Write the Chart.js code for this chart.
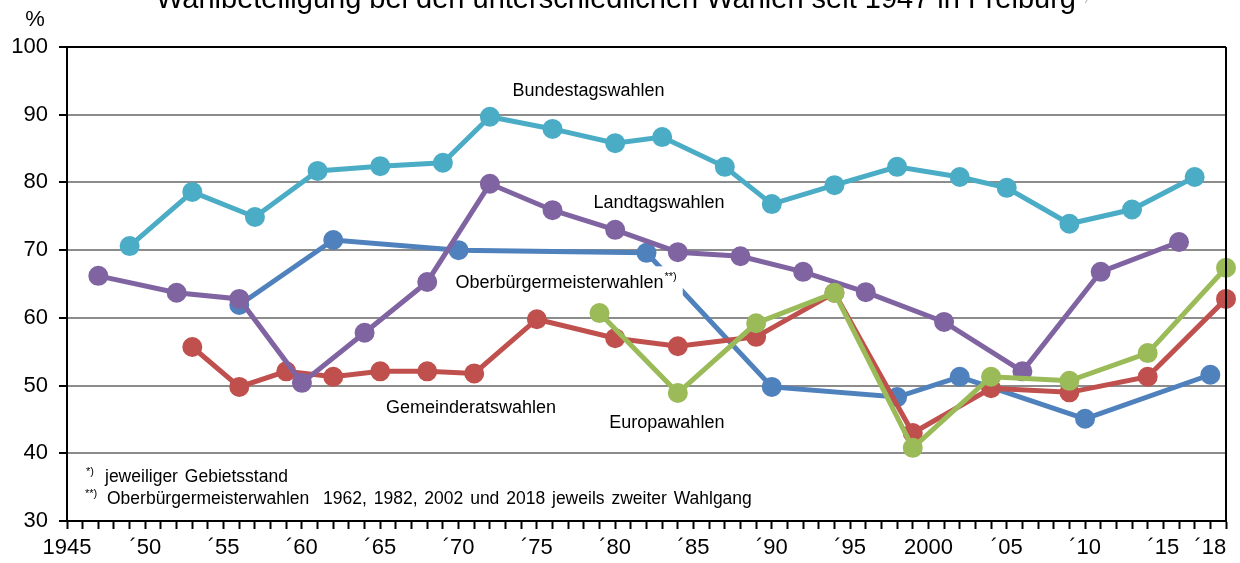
<!DOCTYPE html>
<html>
<head>
<meta charset="utf-8">
<script src="https://cdn.jsdelivr.net/npm/chart.js@4/dist/chart.umd.min.js"></script>
<style>
  body { margin: 0; background: #fff; }
  #wrap { width: 1240px; height: 563px; position: relative; }
</style>
</head>
<body>
<div id="wrap"><canvas id="chart"></canvas></div>
<script>
// Wahlbeteiligung in Freiburg, Werte in %
const bundYears  = [1949, 1953, 1957, 1961, 1965, 1969, 1972, 1976, 1980, 1983, 1987, 1990, 1994, 1998, 2002, 2005, 2009, 2013, 2017];
const bundVals   = [70.6, 78.6, 74.9, 81.7, 82.4, 82.9, 89.7, 87.9, 85.8, 86.7, 82.3, 76.8, 79.6, 82.3, 80.8, 79.2, 73.9, 76.0, 80.8];

const landYears  = [1947, 1952, 1956, 1960, 1964, 1968, 1972, 1976, 1980, 1984, 1988, 1992, 1996, 2001, 2006, 2011, 2016];
const landVals   = [66.2, 63.7, 62.8, 50.4, 57.8, 65.3, 79.8, 75.9, 73.0, 69.7, 69.1, 66.8, 63.8, 59.4, 52.1, 66.8, 71.2];

const obYears    = [1956, 1962, 1970, 1982, 1990, 1998, 2002, 2010, 2018];
const obVals     = [61.9, 71.5, 70.0, 69.6, 49.8, 48.3, 51.3, 45.1, 51.6];

const gemYears   = [1953, 1956, 1959, 1962, 1965, 1968, 1971, 1975, 1980, 1984, 1989, 1994, 1999, 2004, 2009, 2014, 2019];
const gemVals    = [55.7, 49.8, 52.1, 51.3, 52.1, 52.1, 51.8, 59.8, 57.0, 55.8, 57.2, 63.7, 43.0, 49.6, 49.0, 51.3, 62.8];

const euYears    = [1979, 1984, 1989, 1994, 1999, 2004, 2009, 2014, 2019];
const euVals     = [60.7, 48.9, 59.2, 63.7, 40.8, 51.3, 50.7, 54.8, 67.4];

const xTickYears  = [1945, 1950, 1955, 1960, 1965, 1970, 1975, 1980, 1985, 1990, 1995, 2000, 2005, 2010, 2015, 2018];
const xTickLabels = ['1945', '´50', '´55', '´60', '´65', '´70', '´75', '´80', '´85', '´90', '´95', '2000', '´05', '´10', '´15', '´18'];

const titleText = 'Wahlbeteiligung bei den unterschiedlichen Wahlen seit 1947 in Freiburg';

// Beschriftungen der Reihen (Position in Achsenwerten)
const seriesLabels = [
    { text: 'Bundestagswahlen', x: 1978.3, y: 93.5, align: 'center' },
    { text: 'Landtagswahlen', x: 1982.8, y: 77.0, align: 'center' },
    { text: 'Oberbürgermeisterwahlen', x: 1969.8, y: 65.1, align: 'left', sup: '**)', box: true },
    { text: 'Gemeinderatswahlen', x: 1970.8, y: 46.7, align: 'center' },
    { text: 'Europawahlen', x: 1983.3, y: 44.5, align: 'center' }
];

function pts(years, vals) {
    return years.map((y, i) => ({ x: y, y: vals[i] }));
}

function series(label, years, vals, color) {
    return {
        label: label,
        data: pts(years, vals),
        borderColor: color,
        backgroundColor: color,
        pointBackgroundColor: color,
        pointBorderColor: color,
        borderWidth: 5,
        pointRadius: 7.5,
        pointHoverRadius: 7.5,
        tension: 0,
        clip: false
    };
}

const FONT = '"Liberation Sans", Arial, sans-serif';

const textPlugin = {
    id: 'texts',
    afterDatasetsDraw(chart) {
        const ctx = chart.ctx;
        const xs = chart.scales.x, ys = chart.scales.y;
        const area = chart.chartArea;
        ctx.save();
        // rechter Rahmen
        ctx.strokeStyle = '#000';
        ctx.lineWidth = 2;
        ctx.beginPath();
        ctx.moveTo(area.right, area.top);
        ctx.lineTo(area.right, area.bottom);
        ctx.stroke();

        ctx.fillStyle = '#000';
        ctx.textBaseline = 'middle';
        seriesLabels.forEach(l => {
            const px = xs.getPixelForValue(l.x);
            const py = ys.getPixelForValue(l.y);
            ctx.font = '18px ' + FONT;
            const w = ctx.measureText(l.text).width;
            if (l.box) {
                ctx.font = '11px ' + FONT;
                const sw = ctx.measureText(l.sup).width;
                ctx.fillStyle = '#fff';
                ctx.fillRect(px - 5, py - 17, w + sw + 12, 33);
                ctx.fillStyle = '#000';
            }
            ctx.font = '18px ' + FONT;
            ctx.textAlign = l.align;
            ctx.fillText(l.text, px, py);
            if (l.sup) {
                ctx.font = '11px ' + FONT;
                ctx.textAlign = 'left';
                ctx.fillText(l.sup, px + w + 1, py - 6);
            }
        });

        // Fußnoten
        ctx.textBaseline = 'alphabetic';
        ctx.textAlign = 'left';
        ctx.font = '11px ' + FONT;
        ctx.fillText('*)', 86, 475);
        ctx.fillText('**)', 85, 497);
        ctx.font = '17.5px ' + FONT;
        ctx.wordSpacing = '2px';
        ctx.fillText('jeweiliger Gebietsstand', 105, 482);
        ctx.fillText('Oberbürgermeisterwahlen  1962, 1982, 2002 und 2018 jeweils zweiter Wahlgang', 107, 504);
        ctx.wordSpacing = '0px';

        // Titel (oben angeschnitten)
        ctx.font = '29px ' + FONT;
        ctx.textAlign = 'center';
        ctx.fillText(titleText, 616, 8);
        const tw = ctx.measureText(titleText).width;
        ctx.font = '14px ' + FONT;
        ctx.fillStyle = '#bbb';
        ctx.textAlign = 'left';
        ctx.fillText('*)', 616 + tw / 2 + 3, 0);

        // Einheit
        ctx.fillStyle = '#000';
        ctx.font = '22px ' + FONT;
        ctx.textAlign = 'center';
        ctx.fillText('%', 35, 26);
        ctx.restore();
    }
};

new Chart(document.getElementById('chart'), {
    type: 'line',
    data: {
        datasets: [
            series('Bundestagswahlen', bundYears, bundVals, '#4BACC6'),
            series('Europawahlen', euYears, euVals, '#9BBB59'),
            series('Landtagswahlen', landYears, landVals, '#8064A2'),
            series('Gemeinderatswahlen', gemYears, gemVals, '#C0504D'),
            series('Oberbürgermeisterwahlen', obYears, obVals, '#4F81BD')
        ]
    },
    options: {
        responsive: true,
        maintainAspectRatio: false,
        animation: false,
        layout: { padding: { top: 47, right: 14, left: 0, bottom: 0 } },
        plugins: {
            legend: { display: false },
            tooltip: { enabled: false },
            title: { display: false }
        },
        scales: {
            x: {
                type: 'linear',
                min: 1945,
                max: 2019,
                afterFit(scale) { scale.height = 42; },
                border: { display: true, color: '#000', width: 2 },
                grid: {
                    drawOnChartArea: false,
                    drawTicks: true,
                    tickLength: 8,
                    tickColor: '#000',
                    tickWidth: 2,
                    color: '#000'
                },
                ticks: {
                    stepSize: 1,
                    autoSkip: false,
                    maxRotation: 0,
                    padding: 6,
                    color: '#000',
                    font: { family: FONT, size: 22 },
                    callback(value) {
                        const i = xTickYears.indexOf(value);
                        return i >= 0 ? xTickLabels[i] : '';
                    }
                }
            },
            y: {
                min: 30,
                max: 100,
                afterFit(scale) { scale.width = 67; },
                border: { display: true, color: '#000', width: 2 },
                grid: {
                    color: c => (c.tick && (c.tick.value === 100 || c.tick.value === 30)) ? '#000' : '#8c8c8c',
                    lineWidth: 2,
                    drawTicks: true,
                    tickLength: 8,
                    tickColor: '#000'
                },
                ticks: {
                    stepSize: 10,
                    padding: 11,
                    color: '#000',
                    font: { family: FONT, size: 22 }
                }
            }
        }
    },
    plugins: [textPlugin]
});
</script>
</body>
</html>
